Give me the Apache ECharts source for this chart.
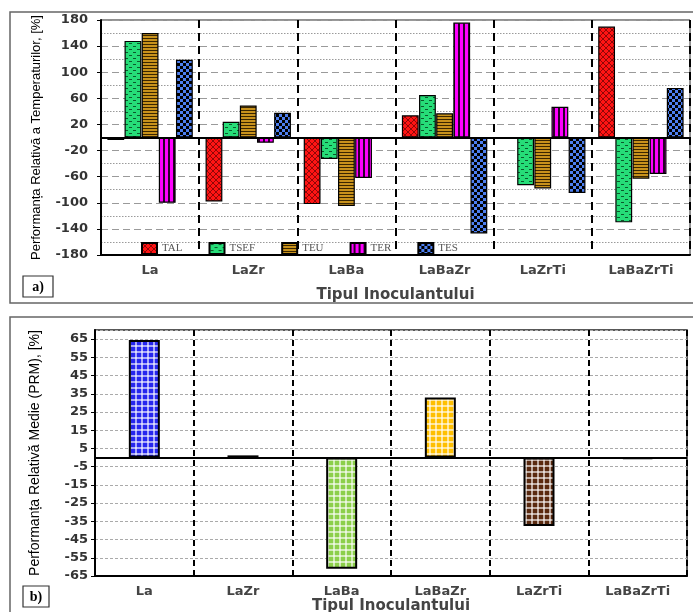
<!DOCTYPE html>
<html>
<head>
<meta charset="utf-8">
<script src="https://cdn.jsdelivr.net/npm/echarts@6/dist/echarts.min.js"></script>
<style>
  html, body { margin: 0; padding: 0; background: #fff; }
  #chart { width: 693px; height: 612px; }
</style>
</head>
<body>
<div id="chart"></div>
<script>
// categorii (tipul inoculantului)
const inoculants = ['La', 'LaZr', 'LaBa', 'LaBaZr', 'LaZrTi', 'LaBaZrTi'];
const tempNames = ['TAL', 'TSEF', 'TEU', 'TER', 'TES'];

// a) performanta relativa a temperaturilor, [%]
const talValues = [-4, -98, -102, 34, 0, 170];
const tsefValues = [148, 24, -33, 65, -73, -130];
const teuValues = [160, 49, -105, 37, -78, -63];
const terValues = [-100, -8, -62, 176, 47, -56];
const tesValues = [119, 38, -1, -147, -85, 76];

// b) performanta relativa medie (PRM), [%]
const prmValues = [64.5, 1.2, -61, 33, -37.5, -0.8];

// pattern helpers
function makePattern(w, h, draw) {
  const c = document.createElement('canvas')
  c.width = w
  c.height = h
  draw(c.getContext('2d'))
  return { image: c, repeat: 'repeat' }
}

function gingham(base) {
  return makePattern(6, 6, ctx => {
    ctx.fillStyle = base
    ctx.fillRect(0, 0, 6, 6)
    ctx.fillStyle = 'rgba(255,255,255,0.6)'
    ctx.fillRect(3, 0, 2, 6)
    ctx.fillRect(0, 3, 6, 2)
  })
}

const tempPatterns = [
  // TAL - rosu cu hasura in romb
  makePattern(6, 6, ctx => {
    ctx.fillStyle = '#ff1414'
    ctx.fillRect(0, 0, 6, 6)
    ctx.strokeStyle = 'rgba(80,0,0,0.8)'
    ctx.lineWidth = 0.8
    ctx.beginPath()
    ctx.moveTo(0, 0); ctx.lineTo(6, 6)
    ctx.moveTo(6, 0); ctx.lineTo(0, 6)
    ctx.stroke()
  }),
  // TSEF - verde cu liniute
  makePattern(8, 6, ctx => {
    ctx.fillStyle = '#26dd78'
    ctx.fillRect(0, 0, 8, 6)
    ctx.fillStyle = '#0b5a2c'
    ctx.fillRect(1, 1, 3, 1)
    ctx.fillRect(5, 4, 3, 1)
  }),
  // TEU - auriu cu dungi orizontale
  makePattern(1, 3, ctx => {
    ctx.fillStyle = '#c8921c'
    ctx.fillRect(0, 0, 1, 3)
    ctx.fillStyle = '#3a2600'
    ctx.fillRect(0, 2, 1, 1)
  }),
  // TER - magenta cu dungi verticale
  makePattern(5, 1, ctx => {
    ctx.fillStyle = '#ff00ff'
    ctx.fillRect(0, 0, 5, 1)
    ctx.fillStyle = '#2a002a'
    ctx.fillRect(3, 0, 2, 1)
  }),
  // TES - albastru tabla de sah
  makePattern(6, 6, ctx => {
    ctx.fillStyle = '#4d7ff0'
    ctx.fillRect(0, 0, 6, 6)
    ctx.fillStyle = '#000'
    ctx.fillRect(0, 0, 3, 3)
    ctx.fillRect(3, 3, 3, 3)
  })
]

const prmPatterns = [
  gingham('#2727ee'),
  gingham('#1d6a38'),
  gingham('#8ccf4a'),
  gingham('#ffbf00'),
  gingham('#5a2a10'),
  gingham('#111111')
]

const tempSeriesData = [talValues, tsefValues, teuValues, terValues, tesValues]

const labelFont = 'DejaVu Sans'
const nameFont = '"Liberation Sans Narrow", "Liberation Sans", Arial'

const zeroLine = {
  silent: true,
  symbol: 'none',
  label: { show: false },
  lineStyle: { color: '#000', width: 2, type: 'solid' },
  data: [{ yAxis: 0 }]
}

const chart = echarts.init(document.getElementById('chart'))
chart.setOption({
  animation: false,
  graphic: [
    { type: 'rect', silent: true, z: -10, shape: { x: 10, y: 12, width: 690, height: 291 }, style: { fill: 'none', stroke: '#666', lineWidth: 1.5 } },
    { type: 'rect', silent: true, z: -10, shape: { x: 10, y: 317, width: 690, height: 300 }, style: { fill: 'none', stroke: '#666', lineWidth: 1.5 } },
    { type: 'rect', silent: true, shape: { x: 23, y: 276, width: 30, height: 21 }, style: { fill: '#fff', stroke: '#333', lineWidth: 1.2 } },
    { type: 'text', silent: true, x: 38, y: 287, style: { text: 'a)', font: 'bold 14px "Liberation Serif"', fill: '#000', align: 'center', verticalAlign: 'middle' } },
    { type: 'rect', silent: true, shape: { x: 23, y: 586, width: 26, height: 21 }, style: { fill: '#fff', stroke: '#333', lineWidth: 1.2 } },
    { type: 'text', silent: true, x: 36, y: 597, style: { text: 'b)', font: 'bold 14px "Liberation Serif"', fill: '#000', align: 'center', verticalAlign: 'middle' } }
  ],
  legend: {
    data: tempNames,
    icon: 'rect',
    left: 136,
    top: 237,
    itemWidth: 15,
    itemHeight: 11,
    itemGap: 26,
    textStyle: { fontFamily: 'Liberation Serif', fontSize: 11, color: '#555' }
  },
  grid: [
    { left: 101, top: 20, width: 589, height: 235, outerBoundsMode: 'none', show: true, borderColor: '#222', borderWidth: 1 },
    { left: 95, top: 330, width: 592, height: 246, outerBoundsMode: 'none', show: true, borderColor: '#222', borderWidth: 1.5 }
  ],
  xAxis: [
    {
      gridIndex: 0,
      type: 'category',
      data: inoculants,
      name: 'Tipul Inoculantului',
      nameLocation: 'middle',
      nameGap: 33,
      nameTextStyle: { fontFamily: labelFont, fontWeight: 'bold', fontSize: 15, color: '#444' },
      axisLine: { onZero: false, lineStyle: { color: '#000', width: 2 } },
      axisTick: { show: false },
      axisLabel: { fontFamily: labelFont, fontWeight: 'bold', fontSize: 13, color: '#444', margin: 9 },
      splitLine: { show: true, lineStyle: { color: '#000', width: 2, type: [8, 5] } }
    },
    {
      gridIndex: 1,
      type: 'category',
      data: inoculants,
      name: 'Tipul Inoculantului',
      nameLocation: 'middle',
      nameGap: 21,
      nameTextStyle: { fontFamily: labelFont, fontWeight: 'bold', fontSize: 15, color: '#444' },
      axisLine: { onZero: false, lineStyle: { color: '#000', width: 2 } },
      axisTick: { show: false },
      axisLabel: { fontFamily: labelFont, fontWeight: 'bold', fontSize: 13, color: '#444', margin: 9 },
      splitLine: { show: true, lineStyle: { color: '#000', width: 2, type: [6, 4] } }
    }
  ],
  yAxis: [
    {
      gridIndex: 0,
      type: 'value',
      min: -180,
      max: 180,
      interval: 40,
      name: 'Performanța Relativă a Temperaturilor, [%]',
      nameLocation: 'middle',
      nameRotate: 90,
      nameGap: 58,
      nameTextStyle: { fontFamily: nameFont, fontSize: 13, color: '#000' },
      axisLine: { show: true, lineStyle: { color: '#000', width: 2 } },
      axisTick: { show: true, length: 4, lineStyle: { color: '#000' } },
      axisLabel: { fontFamily: labelFont, fontWeight: 'bold', fontSize: 13, color: '#333', margin: 13 },
      splitLine: { show: true, lineStyle: { color: '#9a9a9a', width: 1, type: [7, 4] } },
      minorTick: { show: false, splitNumber: 2 },
      minorSplitLine: { show: true, lineStyle: { color: '#9a9a9a', width: 1, type: [1.5, 1.5] } }
    },
    {
      gridIndex: 1,
      type: 'value',
      min: -65,
      max: 70,
      interval: 10,
      name: 'Performanța Relativă Medie (PRM), [%]',
      nameLocation: 'middle',
      nameRotate: 90,
      nameGap: 53,
      nameTextStyle: { fontFamily: nameFont, fontSize: 14, color: '#000' },
      axisLine: { show: true, lineStyle: { color: '#000', width: 2 } },
      axisTick: { show: true, length: 4, lineStyle: { color: '#000' } },
      axisLabel: { fontFamily: labelFont, fontWeight: 'bold', fontSize: 13, color: '#333', margin: 7, showMaxLabel: false },
      splitLine: { show: true, lineStyle: { color: '#aaa', width: 1, type: [3, 2] } }
    }
  ],
  series: [
    ...tempNames.map((name, i) => ({
      name: name,
      type: 'bar',
      xAxisIndex: 0,
      yAxisIndex: 0,
      data: tempSeriesData[i],
      barGap: '2%',
      barCategoryGap: '13%',
      itemStyle: { color: tempPatterns[i], borderColor: '#000', borderWidth: 1.2 },
      emphasis: { disabled: true },
      markLine: i === 0 ? zeroLine : undefined
    })),
    {
      name: 'PRM',
      type: 'bar',
      xAxisIndex: 1,
      yAxisIndex: 1,
      data: prmValues,
      barWidth: 31,
      itemStyle: {
        color: params => prmPatterns[params.dataIndex],
        borderColor: '#000',
        borderWidth: 2
      },
      emphasis: { disabled: true },
      markLine: zeroLine
    }
  ]
})
</script>
</body>
</html>
